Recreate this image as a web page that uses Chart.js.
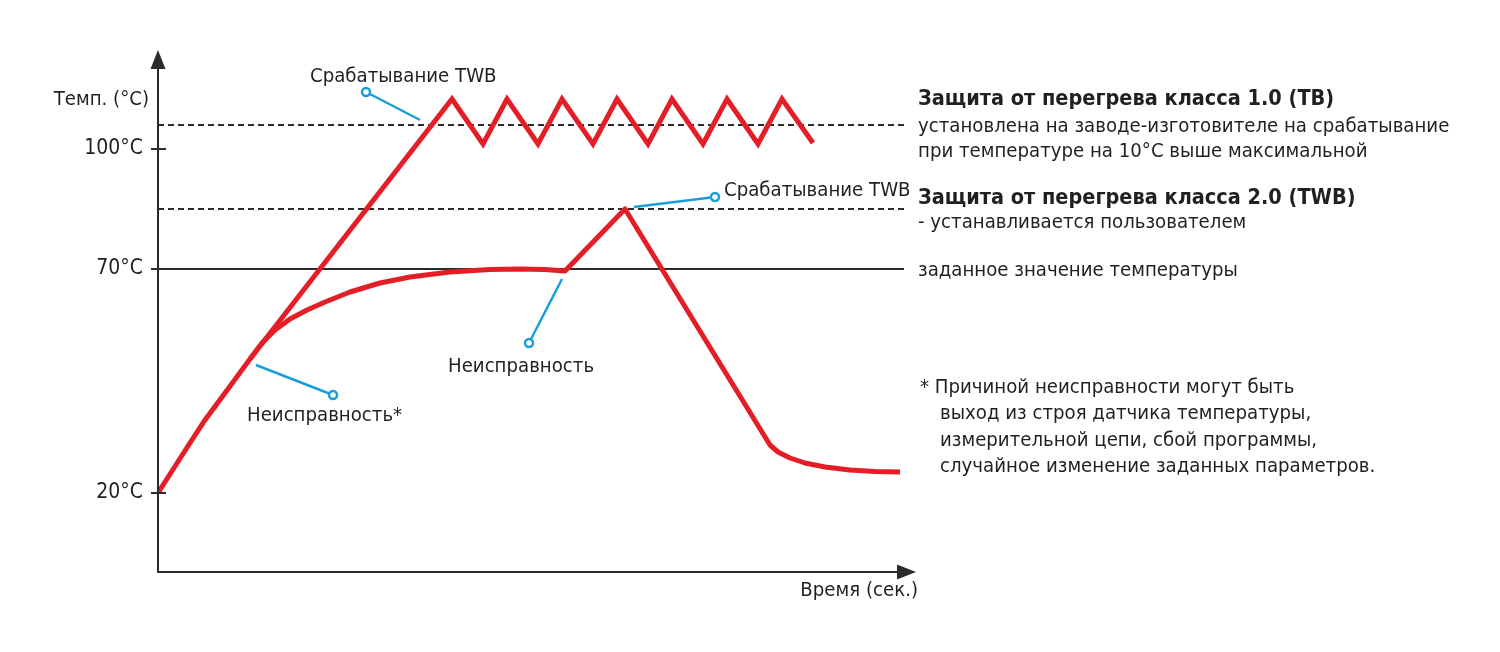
<!DOCTYPE html>
<html>
<head>
<meta charset="utf-8">
<script src="https://cdn.jsdelivr.net/npm/chart.js@4"></script>
<style>
  html, body { margin: 0; padding: 0; background: #fff; }
  #wrap { width: 1500px; height: 652px; }
</style>
</head>
<body>
<div id="wrap"><canvas id="tempChart"></canvas></div>
<script>
// y values are schematic chart units (the 20°C mark is not to scale in the original)
const yTickValues = [14, 70, 100];
const yTickLabels = ['20°C', '70°C', '100°C'];

// normal heating, TB trips and cycles
const heatX = [0, 14, 30, 47, 67, 92, 294, 325, 349, 380, 404, 435, 459, 490, 514, 545, 569, 600, 624, 655];
const heatY = [14, 19.5, 25.75, 32.25, 39, 47.5, 112.5, 101.25, 112.5, 101.25, 112.5, 101.25, 112.5, 101.25, 112.5, 101.25, 112.5, 101.25, 112.5, 101.5];

// controlled heating, fault, TWB trips, cooling
const faultX = [92, 104, 117, 132, 149, 167, 192, 222, 252, 292, 332, 362, 387, 407, 467, 612, 620, 632, 647, 667, 692, 717, 742];
const faultY = [47.5, 51.5, 54.75, 57.5, 59.75, 61.75, 64.25, 66.5, 68, 69.25, 69.9, 70, 69.9, 69.5, 85, 26, 24.25, 22.75, 21.5, 20.5, 19.75, 19.4, 19.25];

// threshold lines
const tbLimit = 106;
const twbLimit = 85;
const setPoint = 70;
const lineEndX = 746;

// leader lines: [from, to-circle]
const leaders = [
  { x: [262, 208], y: [107.25, 114.25] },
  { x: [476, 557], y: [85.5, 88] },
  { x: [404, 371], y: [67.5, 51.5] },
  { x: [98, 175], y: [46, 38.5] }
];

const RED = '#e31e26';
const BLUE = '#1a9edb';
const DARK = '#2b2b2b';
const TXT = '#231f20';
const FONT = '"DejaVu Sans Condensed", "DejaVu Sans", sans-serif';

function pts(xs, ys) {
  return xs.map((x, i) => ({ x: x, y: ys[i] }));
}

function hline(y, dashed) {
  return {
    data: [{ x: 0, y: y }, { x: lineEndX, y: y }],
    borderColor: DARK,
    borderWidth: 2,
    borderDash: dashed ? [6, 4] : [],
    pointRadius: 0,
    tension: 0,
    order: 5
  };
}

const datasets = [
  hline(tbLimit, true),
  hline(twbLimit, true),
  hline(setPoint, false),
  {
    data: pts(heatX, heatY),
    borderColor: RED, borderWidth: 5, pointRadius: 0, tension: 0,
    borderJoinStyle: 'miter', order: 2
  },
  {
    data: pts(faultX, faultY),
    borderColor: RED, borderWidth: 5, pointRadius: 0, tension: 0,
    borderJoinStyle: 'round', order: 2
  }
];
leaders.forEach(l => {
  datasets.push({
    data: pts(l.x, l.y),
    borderColor: BLUE, borderWidth: 2.5, tension: 0,
    pointRadius: [0, 4], pointBorderWidth: 2.5,
    pointBorderColor: BLUE, pointBackgroundColor: '#fff',
    order: 1
  });
});

// text notes, positioned in chart units
const notes = [
  { t: 'Срабатывание TWB', x: 152, y: 118 },
  { t: 'Срабатывание TWB', x: 566, y: 89.5 },
  { t: 'Неисправность', x: 290, y: 45.5 },
  { t: 'Неисправность*', x: 89, y: 33.25 },
  { t: 'Защита от перегрева класса 1.0 (TB)', x: 760, y: 112.5, bold: true },
  { t: 'установлена на заводе-изготовителе на срабатывание', x: 760, y: 105.5 },
  { t: 'при температуре на 10°С выше максимальной', x: 760, y: 99.25 },
  { t: 'Защита от перегрева класса 2.0 (TWB)', x: 760, y: 87.75, bold: true },
  { t: '- устанавливается пользователем', x: 760, y: 81.5 },
  { t: 'заданное значение температуры', x: 760, y: 69.5 },
  { t: '* Причиной неисправности могут быть', x: 762, y: 40.25 },
  { t: 'выход из строя датчика температуры,', x: 782, y: 33.75 },
  { t: 'измерительной цепи, сбой программы,', x: 782, y: 27 },
  { t: 'случайное изменение заданных параметров.', x: 782, y: 20.5 },
  { t: 'Темп. (°C)', x: -9, y: 112.25, right: true },
  { t: 'Время (сек.)', x: 760, y: -10.5, right: true }
];

const axesPlugin = {
  id: 'axesPlugin',
  afterDatasetsDraw(chart) {
    const ctx = chart.ctx;
    const a = chart.chartArea;
    const xs = chart.scales.x, ys = chart.scales.y;
    ctx.save();
    ctx.strokeStyle = DARK;
    ctx.fillStyle = DARK;
    ctx.lineWidth = 2;
    // y axis
    ctx.beginPath();
    ctx.moveTo(a.left, a.bottom);
    ctx.lineTo(a.left, a.top + 14);
    ctx.stroke();
    ctx.beginPath();
    ctx.moveTo(a.left, a.top);
    ctx.lineTo(a.left - 7.5, a.top + 19);
    ctx.lineTo(a.left + 7.5, a.top + 19);
    ctx.closePath();
    ctx.fill();
    // x axis
    ctx.beginPath();
    ctx.moveTo(a.left - 1, a.bottom);
    ctx.lineTo(a.right - 14, a.bottom);
    ctx.stroke();
    ctx.beginPath();
    ctx.moveTo(a.right, a.bottom);
    ctx.lineTo(a.right - 19, a.bottom - 7.5);
    ctx.lineTo(a.right - 19, a.bottom + 7.5);
    ctx.closePath();
    ctx.fill();
    // tick crosses
    yTickValues.forEach(v => {
      const y = ys.getPixelForValue(v);
      ctx.beginPath();
      ctx.moveTo(a.left - 7, y);
      ctx.lineTo(a.left + 8, y);
      ctx.stroke();
    });
    // notes
    ctx.fillStyle = TXT;
    ctx.textBaseline = 'middle';
    notes.forEach(n => {
      ctx.font = n.bold ? 'bold 21.5px ' + FONT : '20.2px ' + FONT;
      ctx.textAlign = n.right ? 'right' : 'left';
      ctx.fillText(n.t, xs.getPixelForValue(n.x), ys.getPixelForValue(n.y));
    });
    ctx.restore();
  }
};

new Chart(document.getElementById('tempChart'), {
  type: 'line',
  data: { datasets: datasets },
  options: {
    responsive: true,
    maintainAspectRatio: false,
    animation: false,
    events: [],
    layout: { padding: { left: 0, top: 50, right: 584, bottom: 80 } },
    plugins: { legend: { display: false }, tooltip: { enabled: false } },
    scales: {
      x: { type: 'linear', display: false, min: 0, max: 758 },
      y: {
        type: 'linear',
        min: -5.75,
        max: 124.75,
        afterFit: s => { s.width = 158; },
        afterBuildTicks: s => { s.ticks = yTickValues.map(v => ({ value: v })); },
        grid: { display: false, drawTicks: false },
        border: { display: false },
        ticks: {
          padding: 15,
          color: TXT,
          font: { family: FONT, size: 21 },
          callback: (v) => yTickLabels[yTickValues.indexOf(v)]
        }
      }
    }
  },
  plugins: [axesPlugin]
});
</script>
</body>
</html>
